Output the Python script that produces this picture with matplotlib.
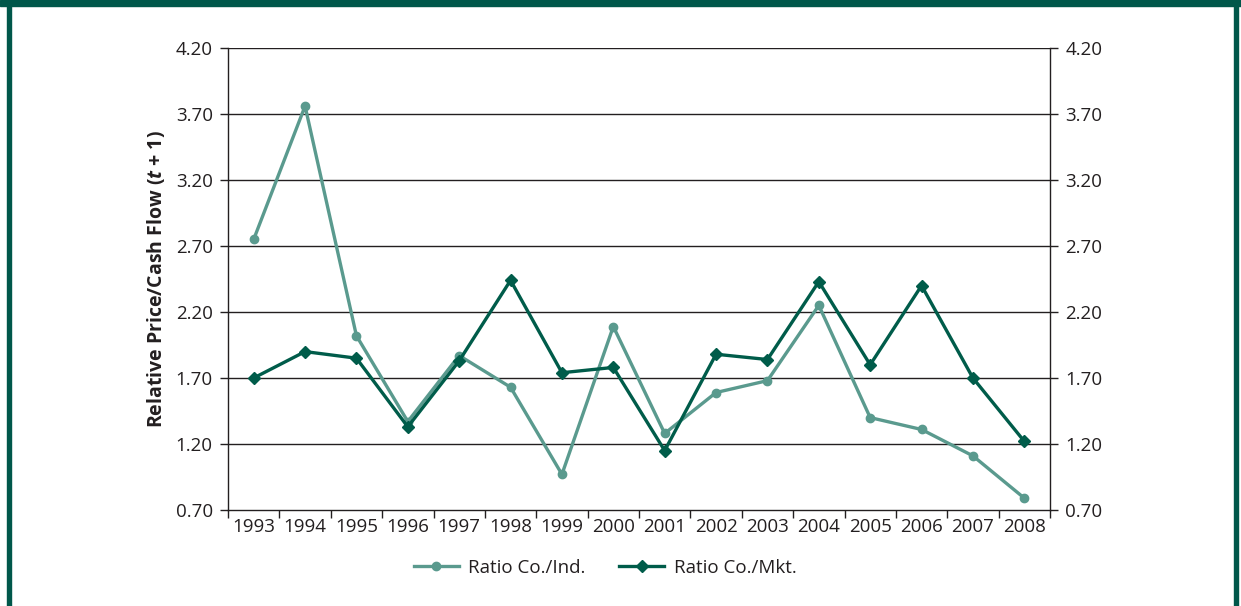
import numpy as np
import matplotlib
matplotlib.use("Agg")
import matplotlib.pyplot as plt
from matplotlib.patches import Rectangle

plt.rcParams['font.family'] = ['Open Sans', 'DejaVu Sans']
plt.rcParams['mathtext.fontset'] = 'custom'
plt.rcParams['mathtext.bfit'] = 'Open Sans:italic:bold'
plt.rcParams['mathtext.bf'] = 'Open Sans:bold'
plt.rcParams['mathtext.rm'] = 'Open Sans:bold'

# 数据
years = ["1993", "1994", "1995", "1996", "1997", "1998", "1999", "2000",
         "2001", "2002", "2003", "2004", "2005", "2006", "2007", "2008"]
ratio_ind = [2.75, 3.76, 2.02, 1.37, 1.87, 1.63, 0.97, 2.09,
             1.28, 1.59, 1.68, 2.25, 1.40, 1.31, 1.11, 0.79]
ratio_mkt = [1.70, 1.90, 1.85, 1.33, 1.83, 2.44, 1.74, 1.78,
             1.15, 1.88, 1.84, 2.43, 1.80, 2.40, 1.70, 1.22]
y_ticks = [0.70, 1.20, 1.70, 2.20, 2.70, 3.20, 3.70, 4.20]

light = "#5A9A8E"
dark = "#005C4A"
frame = "#00574A"
txt = "#231F20"

x = np.arange(len(years))

fig = plt.figure(figsize=(12.41, 6.06), dpi=100)
ax = fig.add_axes([228/1241, 1-510/606, 822/1241, 462/606])

ax.plot(x, ratio_ind, color=light, lw=2.4, marker="o", ms=6, label="Ratio Co./Ind.", zorder=3)
ax.plot(x, ratio_mkt, color=dark, lw=2.4, marker="D", ms=6, label="Ratio Co./Mkt.", zorder=4)

ax.set_xlim(-0.5, len(years) - 0.5)
ax.set_ylim(0.70, 4.20)
ax.set_yticks(y_ticks)
ax.set_yticklabels([f"{v:.2f}" for v in y_ticks])
ax.set_xticks(x)
ax.set_xticklabels(years)
ax.set_xticks(np.arange(-0.5, len(years), 1.0), minor=True)
ax.tick_params(axis="x", which="major", length=0, pad=6, labelsize=13.5, labelcolor=txt)
ax.tick_params(axis="x", which="minor", length=6, width=1, color="#231F20", direction="out")
ax.tick_params(axis="y", length=6, width=1, color="#231F20", labelsize=13.5, labelcolor=txt,
               left=True, right=True, labelleft=True, labelright=True, pad=5)

for y in y_ticks[1:]:
    ax.axhline(y, color="#231F20", lw=1, zorder=1)
ax.spines["top"].set_visible(False)
for s in ["left", "right", "bottom"]:
    ax.spines[s].set_color("#231F20")
    ax.spines[s].set_linewidth(1)

ax.set_ylabel(r"Relative Price/Cash Flow ($\mathbfit{t}$ + 1)", fontsize=14,
              fontweight="bold", color=txt, labelpad=6)

fig.legend(loc="center", bbox_to_anchor=(605/1241, 1-568/606), ncol=2, frameon=False,
           fontsize=13.5, handlelength=2.4, handletextpad=0.5, columnspacing=1.8,
           labelcolor=txt)

# 外框
fig.patches.append(Rectangle((0, 1-6/606), 1, 6/606, transform=fig.transFigure,
                             color=frame, zorder=10))
fig.patches.append(Rectangle((7/1241, 0), 4/1241, 1, transform=fig.transFigure,
                             color=frame, zorder=10))
fig.patches.append(Rectangle((1234/1241, 0), 4/1241, 1, transform=fig.transFigure,
                             color=frame, zorder=10))

fig.savefig("out.png", dpi=100)
